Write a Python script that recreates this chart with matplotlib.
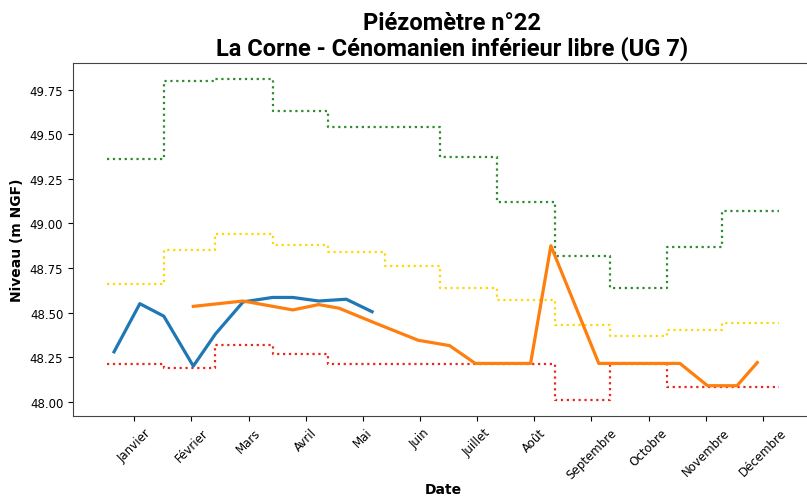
import matplotlib
matplotlib.use("Agg")
import matplotlib.pyplot as plt

# day of year at which each monthly reference value starts (last value repeated to close the step)
month_start = [0, 31, 59, 90, 120, 151, 181, 212, 243, 273, 304, 334, 365]
niveau_haut = [49.36, 49.80, 49.81, 49.63, 49.54, 49.54, 49.37, 49.12, 48.82, 48.64, 48.87, 49.07]
niveau_moyen = [48.66, 48.85, 48.94, 48.88, 48.84, 48.76, 48.64, 48.57, 48.43, 48.37, 48.40, 48.44]
niveau_bas = [48.21, 48.19, 48.32, 48.27, 48.21, 48.21, 48.21, 48.21, 48.01, 48.21, 48.08, 48.08]

# measured levels (day of year, m NGF)
bleu_jours = [4, 18, 31, 47, 59, 74, 90, 101, 115, 130, 144]
bleu_niveaux = [48.28, 48.55, 48.48, 48.20, 48.38, 48.56, 48.585, 48.585, 48.565, 48.575, 48.505]

orange_jours = [47, 74, 101, 115, 126, 146, 169, 186, 200, 230, 241, 267, 311, 326, 342, 353]
orange_niveaux = [48.535, 48.565, 48.515, 48.545, 48.525, 48.44, 48.345, 48.315, 48.215, 48.215,
                  48.875, 48.215, 48.215, 48.09, 48.09, 48.22]

mois_ticks = [15, 46, 77, 108, 139, 170, 201, 232, 263, 294, 325, 356]
mois = ["Janvier", "Février", "Mars", "Avril", "Mai", "Juin", "Juillet", "Août",
        "Septembre", "Octobre", "Novembre", "Décembre"]

fig = plt.figure(figsize=(8.07, 5.02), dpi=100)
ax = fig.add_axes([0.0905, 0.1693, 0.917, 0.7032])

ax.step(month_start, niveau_haut + niveau_haut[-1:], where="post", color="#2e8b2e", linestyle=":", linewidth=1.6)
ax.step(month_start, niveau_moyen + niveau_moyen[-1:], where="post", color="gold", linestyle=":", linewidth=1.6)
ax.step(month_start, niveau_bas + niveau_bas[-1:], where="post", color="#e8281e", linestyle=":", linewidth=1.6)
ax.plot(bleu_jours, bleu_niveaux, color="tab:blue", linewidth=2.3)
ax.plot(orange_jours, orange_niveaux, color="tab:orange", linewidth=2.3)

ax.set_xticks(mois_ticks)
ax.set_xticklabels(mois, rotation=45, fontsize=8.5)
ax.set_yticks([48.0, 48.25, 48.5, 48.75, 49.0, 49.25, 49.5, 49.75])
ax.set_yticklabels(["48.00", "48.25", "48.50", "48.75", "49.00", "49.25", "49.50", "49.75"], fontsize=8.5)

ax.set_xlabel("Date", fontsize=10, fontweight="bold", labelpad=1)
ax.set_ylabel("Niveau (m NGF)", fontsize=10, fontweight="bold")
ax.set_title("Piézomètre n°22\nLa Corne - Cénomanien inférieur libre (UG 7)",
             fontsize=17, fontweight="bold", family="Roboto", x=0.512, pad=6, linespacing=1.1)

for s in ax.spines.values():
    s.set_color("#444444")

fig.savefig("out.png", dpi=100)
